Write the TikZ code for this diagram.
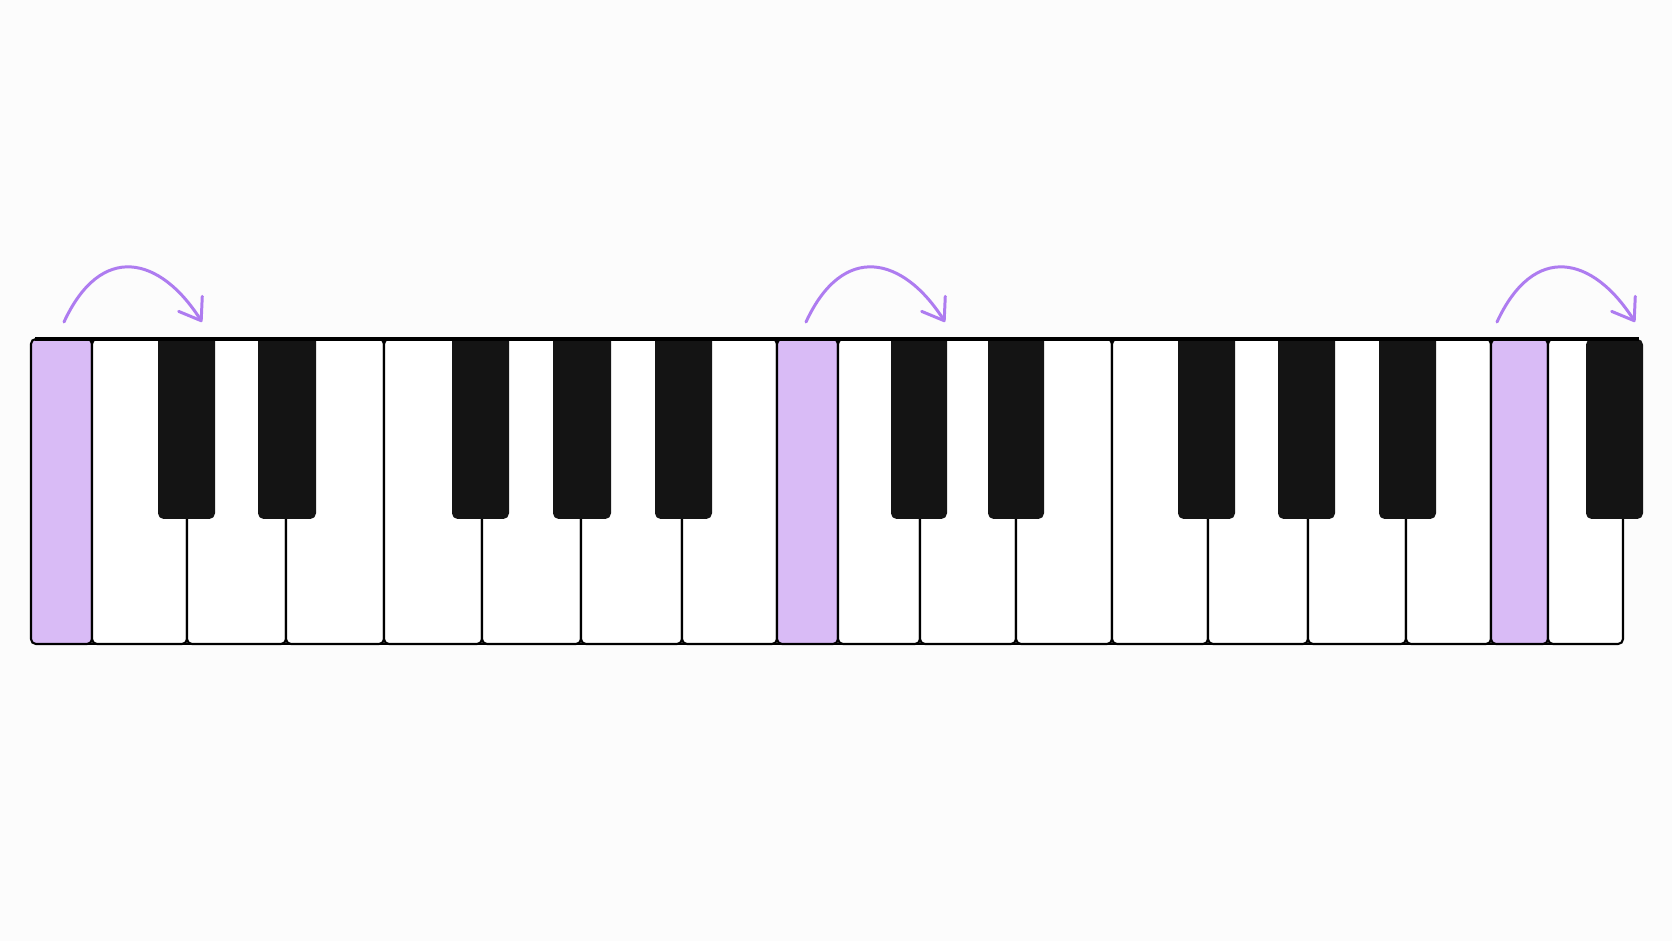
\documentclass[tikz,border=0pt]{standalone}
\usepackage{tikz}
\definecolor{lilas}{HTML}{D9BBF6}
\definecolor{mauve}{HTML}{AE7CF0}
\definecolor{noir}{HTML}{141414}
\definecolor{fond}{HTML}{FCFCFC}
\usetikzlibrary{arrows.meta}

\begin{document}
\begin{tikzpicture}[x=0.1mm,y=-0.1mm,
  touche/.style={draw=black,fill=white,line width=0.6pt,rounded corners=1.4pt},
  touchelilas/.style={touche,fill=lilas},
  dieze/.style={fill=noir,rounded corners=1.6pt},
  saut/.style={mauve,line width=0.85pt,line cap=round,
    -{Straight Barb[length=2mm,width=2.8mm,round]}}]

  \fill[fond] (0,0) rectangle (1672,941);

  \draw[touchelilas] (31,339) rectangle (92,644);
  \draw[touche] (92,339) rectangle (187,644);
  \draw[touche] (187,339) rectangle (286,644);
  \draw[touche] (286,339) rectangle (384,644);
  \draw[touche] (384,339) rectangle (482,644);
  \draw[touche] (482,339) rectangle (581,644);
  \draw[touche] (581,339) rectangle (682,644);
  \draw[touche] (682,339) rectangle (777,644);
  \draw[touchelilas] (777,339) rectangle (838,644);
  \draw[touche] (838,339) rectangle (920,644);
  \draw[touche] (920,339) rectangle (1016,644);
  \draw[touche] (1016,339) rectangle (1112,644);
  \draw[touche] (1112,339) rectangle (1208,644);
  \draw[touche] (1208,339) rectangle (1308,644);
  \draw[touche] (1308,339) rectangle (1406,644);
  \draw[touche] (1406,339) rectangle (1491,644);
  \draw[touchelilas] (1491,339) rectangle (1548,644);
  \draw[touche] (1548,339) rectangle (1623,644);

  \begin{scope}
    \clip (0,339) rectangle (1672,941);
    \fill[dieze] (158,320) rectangle (215,519);
    \fill[dieze] (258,320) rectangle (316,519);
    \fill[dieze] (452,320) rectangle (509,519);
    \fill[dieze] (553,320) rectangle (611,519);
    \fill[dieze] (655,320) rectangle (712,519);
    \fill[dieze] (891,320) rectangle (947,519);
    \fill[dieze] (988,320) rectangle (1044,519);
    \fill[dieze] (1178,320) rectangle (1235,519);
    \fill[dieze] (1278,320) rectangle (1335,519);
    \fill[dieze] (1379,320) rectangle (1436,519);
  \end{scope}
  \fill[dieze] (1586,339) rectangle (1643,519);

  \draw[line width=1.1pt] (35,339) -- (1639,339);
  \draw[line width=0.8pt] (35,644) -- (1619,644);
  \draw[line width=0.8pt] (31,344) -- (31,639);

  \draw[saut] (64,322) .. controls +(37,-80) and +(-42,-66) .. (202,322);
  \draw[saut] (806,322) .. controls +(37,-80) and +(-42,-66) .. (945,322);
  \draw[saut] (1497,322) .. controls +(37,-80) and +(-42,-66) .. (1635,322);
\end{tikzpicture}
\end{document}
